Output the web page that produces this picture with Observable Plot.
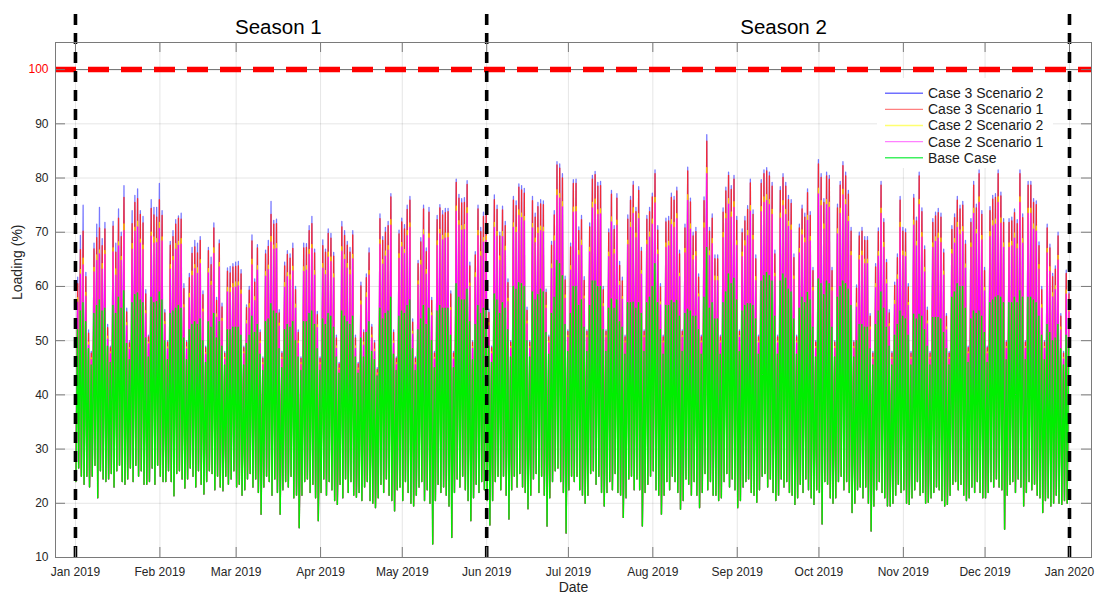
<!DOCTYPE html>
<html>
<head>
<meta charset="utf-8">
<script src="https://cdn.jsdelivr.net/npm/d3@7"></script>
<script src="https://cdn.jsdelivr.net/npm/@observablehq/plot@0.6"></script>
<style>
  html, body { margin: 0; padding: 0; background: #fff; }
  #wrap { position: relative; width: 1099px; height: 599px; font-family: "Liberation Sans", Arial, sans-serif; }
  #wrap svg { overflow: visible; }
  #legend { position: absolute; left: 877px; top: 78px; width: 176px; height: 90px; background: #fff; }
</style>
</head>
<body>
<div id="wrap"></div>
<script>
// ---------------- DATA (one value per day, 1 Jan 2019 .. 31 Dec 2019) ----------------
// Rows: first row Tue 1 Jan - Sun 6 Jan, then one row per week (Mon..Sun), last row Mon 30 / Tue 31 Dec.

// Night-time trough shared by all cases (Loading %)
const nightMin = [
24.0,26.5,25.0,23.5,25.0,23.0,
25.0,27.0,21.0,26.0,24.5,24.0,24.5,
25.5,23.0,26.0,27.0,24.0,23.5,24.5,
26.5,24.0,27.0,25.0,26.0,23.5,23.5,
24.0,26.5,23.5,27.0,25.0,24.0,24.0,
26.0,24.0,21.4,25.5,26.0,24.5,22.8,
24.5,26.5,25.0,23.0,26.0,23.5,21.7,
24.0,26.0,25.5,22.5,25.0,23.0,22.3,
25.0,23.5,24.5,26.0,23.0,23.5,21.5,
22.5,24.5,25.5,23.0,24.5,22.0,18.0,
23.0,25.0,24.0,21.5,24.5,22.0,18.0,
22.5,24.0,23.0,25.0,21.0,21.5,15.5,
21.5,24.0,24.5,22.0,23.5,21.0,16.8,
22.0,24.5,21.5,24.0,22.5,20.5,19.8,
23.5,21.0,24.5,22.0,24.0,21.5,21.1,
22.0,20.5,23.0,24.0,20.5,20.0,19.2,
21.0,23.5,22.0,24.5,21.5,20.5,18.6,
22.5,23.0,20.5,24.0,22.0,20.0,19.5,
21.5,23.0,24.0,20.5,22.5,20.0,12.5,
20.5,23.5,22.0,23.0,21.5,19.5,13.7,
22.0,24.5,23.0,25.0,22.5,20.5,16.8,
21.0,23.5,22.0,24.0,22.5,20.5,16.0,
20.5,24.0,25.0,22.5,25.0,21.5,17.1,
22.5,25.0,23.0,25.5,23.0,22.0,19.0,
21.5,24.5,25.5,22.0,25.0,21.5,15.8,
21.0,24.0,26.0,26.5,24.0,22.0,14.5,
22.5,25.0,24.0,25.0,22.5,21.5,20.0,
21.5,25.5,26.0,23.5,25.0,22.0,19.5,
22.0,24.0,22.5,25.5,22.0,21.5,17.4,
21.0,24.5,25.0,22.5,24.5,22.5,15.8,
22.0,23.5,25.0,26.0,22.5,21.5,18.0,
21.5,24.0,22.5,25.0,24.0,22.0,18.9,
20.5,24.5,23.5,21.5,24.0,21.5,19.2,
22.0,25.5,22.5,24.0,21.5,21.5,20.5,
21.0,24.0,25.5,23.0,24.5,22.5,19.2,
20.5,23.0,24.0,24.5,22.0,21.5,20.2,
22.5,25.0,25.5,23.0,24.5,22.0,20.5,
21.5,24.5,23.0,24.0,22.0,21.5,19.8,
21.0,23.5,22.0,24.5,22.5,21.0,19.8,
22.5,22.0,16.2,24.0,23.5,21.0,20.0,
21.0,24.0,25.0,22.5,24.0,22.0,18.3,
20.0,22.5,23.0,21.0,23.0,20.0,14.9,
19.5,22.5,24.0,22.0,21.0,19.5,19.5,
20.0,21.5,23.5,22.0,22.5,20.0,19.8,
21.0,22.5,24.0,21.5,22.0,20.0,20.2,
21.0,22.0,23.0,22.5,20.5,19.5,19.8,
21.5,23.5,24.0,22.5,23.5,21.5,20.5,
21.0,23.0,22.0,24.0,22.0,21.0,21.0,
22.0,24.0,23.0,24.5,23.0,22.5,15.2,
21.5,23.5,24.0,22.0,24.5,23.0,19.5,
22.0,24.0,22.5,23.5,21.5,21.0,18.3,
20.5,21.0,19.5,20.0,21.5,20.0,19.8,
20.5,20.0
];

// Daily peak, Base Case
const basePeak = [
52.0,55.5,57.0,53.5,48.5,45.5,
55.0,56.5,57.5,55.5,56.0,49.0,46.0,
56.5,55.0,58.0,56.0,59.2,49.5,46.5,
57.0,58.5,58.8,57.5,57.0,50.5,47.0,
58.0,57.0,57.2,59.0,57.5,50.0,46.5,
55.0,55.5,56.0,56.5,56.0,50.5,46.5,
52.0,53.0,53.5,53.0,54.0,50.0,46.0,
53.5,52.5,55.0,50.5,53.5,49.0,45.5,
52.0,52.0,52.5,52.5,52.5,51.0,45.5,
49.5,51.0,54.5,51.5,53.0,47.5,44.5,
53.5,54.0,56.8,55.5,55.0,48.5,45.0,
52.0,53.0,52.5,53.5,50.0,47.0,44.5,
53.5,53.5,55.0,55.5,53.0,48.5,44.5,
54.0,53.0,55.0,54.5,52.5,47.0,44.0,
55.5,54.5,53.5,53.0,54.5,47.0,44.0,
50.5,47.0,51.5,53.5,48.0,46.5,43.5,
56.0,54.0,55.0,55.5,58.0,47.5,44.5,
54.5,55.5,55.0,56.5,57.5,48.5,44.5,
52.0,54.0,56.5,53.0,56.0,50.0,45.0,
55.5,56.5,56.0,56.0,56.0,51.0,45.0,
60.5,58.0,57.5,57.5,59.5,53.5,46.5,
53.0,56.5,55.0,56.0,56.0,49.0,46.0,
58.6,57.5,55.0,57.0,56.0,52.0,47.0,
60.0,59.5,60.7,60.5,60.0,50.0,47.0,
59.0,57.5,58.5,59.5,59.0,51.5,47.5,
55.0,58.0,64.8,64.2,62.0,53.0,48.0,
55.0,60.0,60.0,56.5,57.5,52.5,48.0,
56.5,61.0,61.0,60.0,60.0,52.0,48.0,
56.0,57.7,56.0,57.5,53.5,52.5,47.5,
57.0,57.0,57.1,56.0,57.0,55.0,48.0,
57.0,58.0,60.0,64.2,57.0,52.0,47.5,
56.5,56.5,57.4,57.0,57.4,54.5,48.0,
55.0,55.8,55.5,54.5,54.5,52.0,47.5,
58.0,67.2,56.0,57.0,54.0,54.0,47.5,
57.0,59.0,62.3,60.5,61.5,57.5,48.0,
55.5,56.5,56.8,56.8,56.5,54.0,47.5,
61.0,62.0,62.6,62.0,61.0,54.5,47.5,
61.0,62.3,61.5,59.5,59.0,54.0,47.5,
56.0,58.0,57.0,58.9,57.5,52.5,47.0,
61.4,60.5,58.5,61.0,60.5,52.5,47.0,
58.0,60.0,61.0,60.5,59.5,56.5,47.0,
50.0,53.0,53.0,52.5,52.5,48.5,45.5,
53.0,55.5,59.0,56.0,52.5,49.0,45.5,
51.0,53.0,55.5,54.5,54.0,51.0,45.5,
54.9,54.0,54.9,54.5,52.0,49.0,45.5,
54.3,54.3,54.3,54.0,51.5,48.5,45.5,
58.0,59.0,60.5,60.0,60.0,56.0,46.0,
54.0,55.5,55.0,55.5,54.5,51.5,46.0,
57.0,57.5,58.0,58.3,58.0,57.0,46.5,
57.0,57.0,58.0,57.0,59.2,58.0,46.5,
58.0,58.0,57.5,57.0,54.5,51.0,46.5,
53.0,51.5,50.0,50.5,53.0,48.5,45.5,
51.0,50.0
];

// Daily peak, Case 2 Scenario 1
const case2Sc1Peak = [
57.1,62.3,64.0,58.2,49.2,46.5,
62.7,64.8,66.0,63.2,65.9,50.3,47.6,
66.4,62.1,67.5,64.8,70.3,52.8,48.4,
66.9,70.2,71.0,68.0,66.8,55.0,49.4,
69.3,68.0,68.1,70.7,68.4,53.0,48.5,
63.2,64.8,66.9,67.6,67.8,56.1,48.5,
57.9,62.0,63.3,62.4,64.2,55.3,47.5,
62.5,60.2,66.1,54.3,63.6,53.6,46.6,
59.0,58.9,59.8,59.9,60.1,58.6,47.6,
53.1,56.0,64.0,57.4,63.0,49.5,45.6,
61.9,63.1,68.2,66.9,67.0,52.7,46.6,
59.9,61.8,61.2,62.9,56.0,49.5,45.6,
62.8,63.0,65.9,67.0,62.1,52.4,45.6,
63.4,62.2,65.4,64.6,61.6,48.6,44.6,
66.5,65.0,63.4,62.2,65.1,48.6,44.6,
56.6,49.2,58.0,62.1,50.5,48.0,43.7,
67.8,64.1,65.6,66.7,71.3,49.5,45.6,
65.2,67.3,66.1,69.4,70.9,51.2,45.6,
60.3,64.0,69.5,62.3,68.9,54.6,46.6,
67.6,69.7,68.6,68.9,69.0,55.6,46.6,
73.9,71.3,70.4,70.5,73.5,60.0,48.6,
61.7,69.4,65.6,68.2,68.5,52.8,47.6,
70.9,69.3,64.8,69.2,66.6,57.2,48.6,
70.9,70.0,73.1,72.7,72.1,53.1,48.6,
70.8,68.1,69.8,70.3,70.1,56.0,49.6,
63.3,68.4,76.8,76.3,74.7,57.8,50.6,
63.0,73.7,73.8,65.8,67.6,57.7,50.6,
66.4,74.5,75.2,73.3,73.4,56.3,50.6,
65.5,71.9,66.0,71.3,60.2,57.6,49.6,
67.7,70.9,73.5,69.0,72.5,62.3,50.6,
67.7,69.1,71.5,75.4,65.9,56.6,49.6,
67.2,67.5,71.4,70.9,72.5,61.8,50.6,
66.2,75.9,70.6,64.9,65.6,58.1,49.6,
70.8,80.8,65.7,67.9,61.1,61.1,49.6,
69.0,72.5,75.2,72.8,74.6,67.6,50.6,
65.5,67.5,69.4,73.9,68.6,61.1,49.6,
73.8,75.5,75.9,75.1,73.3,61.8,49.6,
72.6,74.9,73.3,71.1,70.4,61.3,49.6,
66.2,69.5,68.1,72.2,68.4,59.2,48.6,
77.1,74.9,70.6,75.1,74.6,59.2,48.6,
69.7,73.5,76.9,75.1,72.0,65.7,48.6,
56.2,64.9,65.7,64.2,64.2,52.0,46.6,
59.8,65.6,73.5,67.2,60.5,52.6,46.6,
56.7,61.3,70.9,65.7,65.5,56.5,46.6,
71.3,67.5,75.1,69.1,62.7,53.1,46.6,
67.2,68.3,68.9,68.1,62.1,52.0,46.6,
66.0,68.0,70.9,69.6,70.1,63.4,47.6,
67.2,73.5,69.7,75.5,68.6,59.2,47.6,
69.2,71.2,71.5,75.5,71.7,67.2,48.6,
67.2,67.5,68.9,67.0,75.5,68.0,48.6,
73.5,73.5,70.6,70.2,63.2,56.0,48.6,
66.2,62.8,58.1,59.4,64.9,52.0,46.6,
58.6,55.3
];

// Daily peak, Case 2 Scenario 2
const case2Sc2Peak = [
58.0,63.2,65.3,59.0,49.8,46.9,
63.6,65.9,66.8,64.3,66.7,50.9,48.0,
67.2,63.3,68.3,65.6,71.6,53.4,48.8,
68.0,71.0,72.1,68.8,67.7,55.6,49.8,
70.1,69.2,68.9,71.9,69.2,53.6,48.9,
64.1,65.6,68.0,68.4,68.9,56.7,48.9,
58.8,62.9,64.1,63.5,65.0,55.9,47.9,
63.4,61.0,67.2,55.0,64.5,54.2,47.0,
59.9,59.8,60.6,60.9,60.9,59.4,48.0,
53.8,56.9,65.1,58.2,63.9,50.0,46.0,
62.8,64.0,69.3,67.7,68.0,53.3,47.0,
60.8,62.6,62.2,63.8,56.8,50.0,46.0,
63.7,63.9,66.9,67.8,63.0,53.0,46.0,
64.3,63.0,66.4,65.5,62.4,49.1,45.0,
67.4,65.9,64.3,63.1,66.0,49.1,45.0,
57.4,49.8,58.9,63.0,51.1,48.5,44.1,
68.7,65.0,66.6,67.6,72.4,50.0,46.0,
66.1,68.2,66.9,70.4,71.8,51.8,46.0,
61.1,64.9,70.5,63.2,69.8,55.2,47.0,
68.5,70.6,69.5,69.9,69.9,56.2,47.0,
74.9,72.2,71.3,71.5,74.6,60.7,49.0,
62.6,70.4,66.5,69.1,69.4,53.4,48.0,
71.9,70.2,65.7,70.2,67.5,57.9,49.0,
71.8,71.0,74.2,73.6,73.0,53.7,49.0,
71.7,69.0,70.9,71.2,71.0,56.6,50.0,
64.2,69.4,77.9,77.2,75.7,58.5,51.0,
63.9,74.7,74.8,66.7,68.6,58.3,51.0,
67.3,75.6,76.2,74.2,74.4,56.9,51.0,
66.4,72.9,66.9,72.3,61.0,58.2,50.0,
68.6,71.9,74.6,69.9,73.5,63.0,51.0,
68.6,70.1,72.5,76.5,66.8,57.2,50.0,
68.1,68.4,72.4,71.9,73.5,62.5,51.0,
67.1,77.0,71.6,65.8,66.5,58.7,50.0,
71.8,82.0,66.6,68.9,62.0,61.9,50.0,
70.0,73.5,76.3,73.8,75.7,68.5,51.0,
66.4,68.5,70.4,75.0,69.5,61.9,50.0,
74.8,76.6,77.0,76.1,74.3,62.5,50.0,
73.6,75.9,74.3,72.1,71.4,62.0,50.0,
67.1,70.5,69.0,73.2,69.3,59.9,49.0,
78.2,75.9,71.6,76.1,75.6,59.9,49.0,
70.7,74.5,78.0,76.1,73.0,66.5,49.0,
57.0,65.8,66.6,65.1,65.1,52.6,47.0,
60.6,66.5,74.5,68.2,61.3,53.2,47.0,
57.5,62.2,71.9,66.6,66.4,57.1,47.0,
72.3,68.4,76.1,70.0,63.6,53.7,47.0,
68.1,69.2,69.9,69.0,62.9,52.6,47.0,
66.9,68.9,71.9,70.5,71.1,64.2,48.0,
68.1,74.5,70.6,76.6,69.5,59.9,48.0,
70.2,72.2,72.5,76.6,72.7,68.1,49.0,
68.1,68.4,69.9,67.9,76.6,68.9,49.0,
74.5,74.5,71.6,71.2,64.1,56.7,49.0,
67.1,63.7,58.9,60.2,65.8,52.6,47.0,
59.4,56.0
];

// Daily peak, Case 3 Scenario 1
const case3Sc1Peak = [
60.5,66.8,70.2,61.8,51.4,47.7,
66.9,69.0,70.8,67.5,70.6,52.4,48.7,
71.1,66.3,72.6,69.2,76.4,55.3,49.6,
71.6,75.5,76.2,73.3,71.7,58.6,50.7,
74.4,73.2,72.8,76.0,73.1,55.1,49.7,
67.6,69.2,71.5,72.6,72.4,59.6,49.7,
61.6,66.1,67.3,66.2,68.5,58.5,48.7,
66.6,64.0,70.8,57.4,67.9,56.2,47.7,
62.8,62.5,63.6,63.7,63.8,62.3,48.7,
56.1,59.3,68.4,60.8,67.1,51.5,46.7,
66.0,67.4,73.3,71.5,71.6,55.1,47.7,
63.8,65.9,65.2,67.0,59.4,51.5,46.7,
67.1,67.2,70.3,71.6,66.2,54.8,46.7,
67.5,66.3,69.8,68.9,65.6,50.5,45.7,
71.0,69.4,67.6,66.3,69.5,50.5,45.7,
60.1,51.5,61.6,66.2,52.5,49.6,44.7,
72.5,68.5,70.0,71.2,76.5,51.5,46.7,
69.7,71.9,70.6,74.2,75.9,53.4,46.7,
64.2,68.2,74.3,66.4,73.7,57.4,47.7,
72.3,74.5,73.2,73.6,73.8,58.6,47.7,
79.2,76.3,75.4,75.5,78.8,63.8,49.7,
65.8,74.3,70.1,72.9,73.3,55.2,48.7,
76.0,74.2,69.3,74.1,71.2,60.7,49.7,
75.9,74.9,78.3,77.8,77.2,55.6,49.7,
75.8,72.8,74.7,75.2,75.1,58.9,50.7,
67.6,73.2,82.4,81.8,80.0,61.2,51.7,
67.3,79.0,79.0,70.3,72.3,61.1,51.7,
71.0,79.8,80.6,78.5,78.6,59.4,51.7,
69.9,77.0,70.5,76.3,63.9,61.0,50.7,
72.4,75.9,78.7,73.8,77.7,66.5,51.7,
72.4,73.8,76.5,80.8,70.4,59.9,50.7,
71.9,72.1,76.4,75.9,77.6,66.0,51.7,
70.8,81.3,75.6,69.3,70.1,61.7,50.7,
75.8,86.8,70.2,72.6,65.1,65.1,50.7,
73.7,77.6,80.5,77.9,79.8,72.2,51.7,
69.9,72.1,74.2,79.1,73.3,65.1,50.7,
79.0,80.8,81.3,80.4,78.5,66.0,50.7,
77.7,80.1,78.5,76.0,75.3,65.3,50.7,
70.8,74.3,72.8,77.3,73.1,62.9,49.7,
82.6,80.1,75.5,80.4,79.8,62.9,49.7,
74.5,78.7,82.3,80.4,77.0,70.2,49.7,
59.7,69.3,70.2,68.5,68.5,54.5,47.7,
63.6,70.1,78.7,71.8,64.4,55.1,47.7,
60.2,65.3,75.9,70.2,69.9,59.9,47.7,
76.3,72.1,80.4,73.8,66.8,55.6,47.7,
71.8,73.0,73.6,72.8,66.2,54.5,47.7,
70.5,72.7,75.9,74.3,75.0,67.8,48.7,
71.8,78.7,74.5,80.8,73.3,62.9,48.7,
74.0,76.1,76.4,80.8,76.7,71.8,49.7,
71.8,72.1,73.6,71.6,80.8,72.7,49.7,
78.7,78.7,75.5,75.1,67.5,59.4,49.7,
70.8,67.1,61.8,63.2,69.3,54.5,47.7,
62.4,58.6
];

// Daily peak, Case 3 Scenario 2
const case3Sc2Peak = [
61.7,69.4,75.0,62.6,52,48,
68.0,71.5,74.6,68.8,71.8,53,49,
72.0,68.0,74.3,70.0,78.6,56,50,
74.0,76.8,78.0,74.0,72.9,59.4,51,
76.0,74.6,74.6,79.0,74.0,55.7,50,
68.3,70.3,72.3,73.0,73.5,60.5,50,
62.4,67.2,68.5,68.0,69.2,59.2,49,
67.2,65.4,71.7,58.0,68.6,56.9,48,
63.4,63.7,64.2,64.5,64.6,63.1,49,
56.6,60.0,69.5,61.4,67.7,52,47,
66.7,68.5,75.7,72.2,72.4,55.7,48,
64.5,66.6,66.0,68.0,60.0,52,47,
68.0,67.9,71.2,72.9,66.9,55.4,47,
68.6,66.9,70.6,69.8,66.3,51,46,
72.0,70.3,68.3,67.2,70.3,51,46,
60.8,52.0,62.3,67.1,53,50,45,
73.4,69.2,70.9,72.0,77.1,52,47,
70.4,72.6,71.4,75.0,76.6,54,47,
64.8,69.0,75.0,67.1,74.6,58,48,
73.1,75.1,74.0,74.4,74.4,59.2,48,
79.8,77.0,76.2,76.4,79.5,64.5,50,
66.4,75.0,70.9,73.7,74.0,55.8,49,
76.9,75.0,70.0,74.8,72.0,61.4,50,
76.6,75.8,78.9,78.6,78.1,56.2,50,
76.6,73.5,75.5,76.0,75.8,59.5,51,
68.3,74.0,83.0,82.6,80.8,61.9,52,
68.0,79.7,79.8,71.0,73.1,61.8,52,
71.7,80.5,81.2,79.2,79.4,60.0,52,
70.6,77.7,71.2,77.1,64.6,61.7,51,
73.2,76.6,79.4,74.6,78.4,67.2,52,
73.1,74.6,77.2,81.5,71.2,60.5,51,
72.6,72.9,77.2,76.6,78.3,66.7,52,
71.5,82.0,76.3,70.0,70.9,62.3,51,
76.5,88.0,70.9,73.4,65.8,65.8,51,
74.5,78.3,81.1,78.6,80.5,72.9,52,
70.6,72.9,74.9,79.8,74.1,65.8,51,
79.7,81.5,81.9,81.1,79.2,66.7,51,
78.4,80.8,79.2,76.8,76.0,66.0,51,
71.5,75.0,73.5,78.0,73.8,63.5,50,
83.4,80.8,76.2,81.1,80.5,63.5,50,
75.2,79.4,83.0,81.1,77.7,70.9,50,
60.3,70.0,70.9,69.2,69.2,55,48,
64.2,70.8,79.4,72.5,65.0,55.7,48,
60.8,66.0,76.6,70.9,70.6,60.5,48,
77.0,72.8,81.1,74.5,67.5,56.2,48,
72.5,73.7,74.4,73.5,66.9,55,48,
71.2,73.4,76.6,75.0,75.7,68.5,49,
72.5,79.4,75.2,81.5,74.0,63.5,49,
74.7,76.8,77.1,81.5,77.4,72.5,50,
72.5,72.8,74.3,72.3,81.5,73.4,50,
79.4,79.4,76.2,75.8,68.2,60,50,
71.5,67.8,62.4,63.8,70.0,55,48,
63.0,59.2
];

// Series, in drawing order (first drawn = furthest back), with legend names and colours
const seriesNames  = ["Case 3 Scenario 2", "Case 3 Scenario 1", "Case 2 Scenario 2", "Case 2 Scenario 1", "Base Case"];
const seriesPeaks  = [case3Sc2Peak, case3Sc1Peak, case2Sc2Peak, case2Sc1Peak, basePeak];
const seriesColors = ["#4040ff", "#ff2020", "#ffd000", "#ff00ff", "#00ee00"];
const seriesAlpha  = [0.7, 0.9, 0.85, 1, 1];
const seriesWidth  = [1.3, 1.35, 1, 1.2, 1.4];
const legendColors = ["#7070ff", "#ff8080", "#ffff70", "#ff80ff", "#40f060"];
const peakHours    = [19.5, 19.5, 19.5, 19.5, 18];   // hour of the daily peak
const troughHour   = 4;                              // hour of the night trough

// Axis / annotation values
const yTicks = [10, 20, 30, 40, 50, 60, 70, 80, 90];
const limitValue = [100];
const seasonBounds = [new Date(Date.UTC(2019, 0, 1)), new Date(Date.UTC(2019, 5, 1)), new Date(Date.UTC(2020, 0, 1))];
const seasonLabels = [
  {label: "Season 1", at: new Date(Date.UTC(2019, 2, 16, 12))},
  {label: "Season 2", at: new Date(Date.UTC(2019, 8, 18))}
];
const monthTicks = d3.utcMonth.range(new Date(Date.UTC(2019, 0, 1)), new Date(Date.UTC(2020, 0, 2)));

// ---------------- BUILD ----------------
const DAY = 86400000;
const T0 = Date.UTC(2019, 0, 1);
const points = [];
seriesNames.forEach((name, s) => {
  const peaks = seriesPeaks[s];
  for (let i = 0; i < peaks.length; i++) {
    points.push({series: name, t: new Date(T0 + (i + troughHour / 24) * DAY), v: nightMin[i]});
    points.push({series: name, t: new Date(T0 + (i + peakHours[s] / 24) * DAY), v: peaks[i]});
  }
});

const FONT = "'Liberation Sans', Arial, Helvetica, sans-serif";
const TXT = "#262626";
const AX = "#7a7a7a";

const lineMarks = seriesNames.map((name, s) =>
  Plot.lineY(points.filter(d => d.series === name), {
    x: "t", y: "v", stroke: seriesColors[s], strokeOpacity: seriesAlpha[s], strokeWidth: seriesWidth[s], curve: "linear"
  })
);

const chart = Plot.plot({
  width: 1099,
  height: 599,
  marginLeft: 55,
  marginRight: 8,
  marginTop: 42,
  marginBottom: 42,
  style: {fontFamily: FONT, fontSize: "12px", background: "#fff", color: TXT, overflow: "visible"},
  x: {type: "utc", domain: [new Date(Date.UTC(2018, 11, 24, 16)), new Date(Date.UTC(2020, 0, 9, 2))], axis: null},
  y: {domain: [10, 105], axis: null},
  marks: [
    // grid
    Plot.gridY(yTicks.concat(limitValue), {stroke: "#000", strokeOpacity: 0.1, strokeWidth: 1}),
    Plot.gridX(monthTicks, {stroke: "#000", strokeOpacity: 0.1, strokeWidth: 1}),
    // data
    ...lineMarks,
    // 100 % limit
    Plot.ruleY(limitValue, {stroke: "#6e6e6e", strokeWidth: 1}),
    Plot.ruleY(limitValue, {stroke: "#ff0000", strokeWidth: 5.5, strokeDasharray: "21,12"}),
    // season boundaries
    Plot.ruleX(seasonBounds, {x: d => d, y1: 10, y2: 110.6, stroke: "#000", strokeWidth: 3.6, strokeDasharray: "11,8"}),
    // frame and inward ticks
    Plot.frame({stroke: AX, strokeWidth: 1}),
    Plot.tickY(yTicks.concat(limitValue), {y: d => d, stroke: AX, insetRight: 1026}),
    Plot.tickY(yTicks.concat(limitValue), {y: d => d, stroke: AX, insetLeft: 1026}),
    Plot.tickX(monthTicks, {x: d => d, stroke: AX, insetTop: 505}),
    Plot.tickX(monthTicks, {x: d => d, stroke: AX, insetBottom: 505}),
    // axes labels
    Plot.axisY(yTicks, {tickSize: 0, tickPadding: 7, fontSize: 12, fill: TXT, label: null}),
    Plot.axisY(limitValue, {tickSize: 0, tickPadding: 7, fontSize: 12, fill: "#ff0000", label: null}),
    Plot.axisX(monthTicks, {tickSize: 0, tickPadding: 10, fontSize: 12, fill: TXT, label: null,
      tickFormat: d3.utcFormat("%b %Y")}),
    Plot.text(["Date"], {frameAnchor: "bottom", dy: 34.5, text: d => d, fontSize: 14, fill: TXT}),
    Plot.text(["Loading (%)"], {frameAnchor: "left", dx: -38, rotate: -90, text: d => d, fontSize: 14, fill: TXT}),
    // season titles
    Plot.text(seasonLabels, {x: "at", y: 107.85, text: "label", fontSize: 20.5, fill: "#000"})
  ]
});

const wrap = document.getElementById("wrap");
wrap.appendChild(chart);

// ---------------- LEGEND ----------------
const legend = d3.select(wrap).append("div").attr("id", "legend");
const lsvg = legend.append("svg").attr("width", 176).attr("height", 90);
seriesNames.forEach((name, k) => {
  const y = 15.3 + k * 16.1;
  lsvg.append("line").attr("x1", 8).attr("x2", 46).attr("y1", y).attr("y2", y)
    .attr("stroke", legendColors[k]).attr("stroke-width", 1.4);
  lsvg.append("text").attr("x", 51).attr("y", y).attr("dy", "0.35em")
    .attr("font-family", FONT).attr("font-size", 14).attr("fill", "#1a1a1a").text(name);
});

// sanity check on data lengths
const bad = seriesPeaks.concat([nightMin]).filter(a => a.length !== 365);
if (bad.length) console.error("length mismatch", seriesPeaks.map(a => a.length), nightMin.length);
</script>
</body>
</html>
